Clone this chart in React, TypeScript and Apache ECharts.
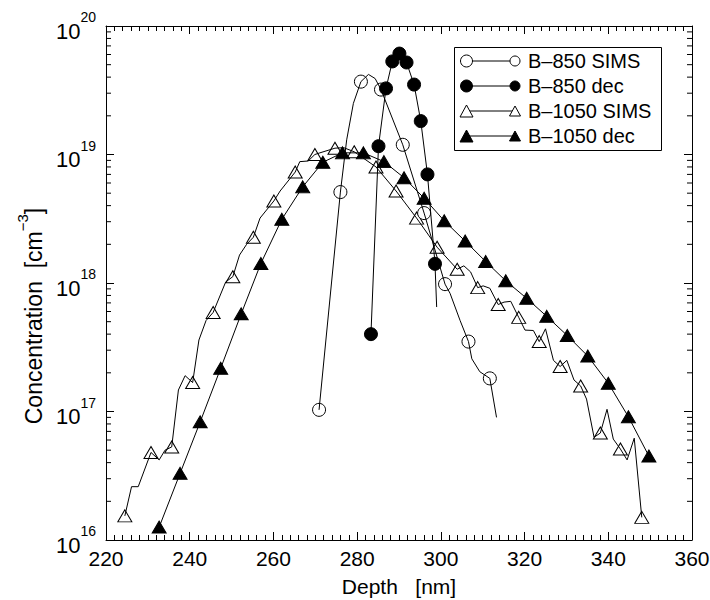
import React, { useEffect, useRef } from "react";
import * as echarts from "echarts";

const FONT = "'Liberation Sans', Arial, Helvetica, sans-serif";

// x axis (Depth, nm)
const depthMin = 220;
const depthMax = 360;
const depthStep = 20;
// y axis (Concentration, cm^-3), log scale
const concMin = 1e16;
const concMax = 1e20;

const seriesNames = ["B–850 SIMS", "B–850 dec", "B–1050 SIMS", "B–1050 dec"];

// B-850 SIMS: measured profile (line) and plotted symbols
const b850SimsLine: [number, number][] = [
  [270.9, 1.03e17], [276.0, 5.1e18], [277.5, 1.3e19], [279.1, 2.5e19],
  [280.9, 3.69e19], [282.7, 4.2e19], [284.3, 3.9e19], [285.7, 3.2e19],
  [290.9, 1.19e19], [296.0, 3.5e18], [301.0, 9.8e17], [302.2, 8.3e17],
  [304.6, 5.1e17], [306.6, 3.5e17], [307.4, 2.57e17], [309.3, 2.04e17],
  [311.7, 1.81e17], [313.3, 9.0e16],
];
const b850SimsMarks: [number, number][] = [
  [270.9, 1.03e17], [276.0, 5.1e18], [280.9, 3.69e19], [285.7, 3.2e19],
  [290.9, 1.19e19], [296.0, 3.5e18], [301.0, 9.8e17], [306.6, 3.5e17],
  [311.7, 1.81e17],
];

// B-850 deconvolved
const b850DecLine: [number, number][] = [
  [283.3, 4.0e17], [285.1, 1.16e19], [286.9, 3.27e19], [288.4, 5.3e19],
  [290.1, 6.1e19], [291.8, 5.2e19], [293.6, 3.5e19], [295.2, 1.82e19],
  [296.8, 7.0e18], [298.6, 1.41e18], [299.0, 6.5e17],
];
const b850DecMarks: [number, number][] = [
  [283.3, 4.0e17], [285.1, 1.16e19], [286.9, 3.27e19], [288.4, 5.3e19],
  [290.1, 6.1e19], [291.8, 5.2e19], [293.6, 3.5e19], [295.2, 1.82e19],
  [296.8, 7.0e18], [298.6, 1.41e18],
];

// B-1050 SIMS
const b1050SimsLine: [number, number][] = [
  [224.5, 1.54e16], [226.1, 2.6e16], [227.7, 2.6e16], [230.75, 4.8e16],
  [232.7, 4.2e16], [234.1, 5.0e16], [235.7, 5.3e16], [237.3, 1.47e17],
  [238.9, 1.9e17], [240.7, 1.68e17], [242.2, 3.6e17], [243.9, 5.1e17],
  [245.6, 5.9e17], [248.6, 1.02e18], [250.3, 1.12e18], [251.9, 1.65e18],
  [253.6, 2.0e18], [255.2, 2.27e18], [256.8, 3.2e18], [260.1, 4.35e18],
  [261.6, 5.2e18], [265.2, 7.3e18], [266.3, 8.8e18], [268.3, 8.9e18],
  [269.9, 1.0e19], [271.1, 1.03e19], [274.7, 1.12e19], [276.8, 1.13e19],
  [279.3, 1.05e19], [284.5, 8.0e18], [289.3, 5.2e18], [294.2, 3.2e18],
  [299.1, 1.9e18], [303.9, 1.28e18], [305.5, 1.36e18], [307.1, 1.22e18],
  [308.8, 9.2e17], [310.1, 9.5e17], [311.7, 9.1e17], [313.7, 6.8e17],
  [315.1, 7.1e17], [316.7, 7.2e17], [318.6, 5.4e17], [320.1, 4.3e17],
  [322.1, 4.27e17], [323.5, 3.5e17], [325.0, 4.4e17], [326.9, 2.5e17],
  [328.5, 2.24e17], [330.1, 2.5e17], [331.8, 1.76e17], [333.4, 1.58e17],
  [334.8, 1.25e17], [336.6, 6.3e16], [338.1, 6.8e16], [339.7, 1.04e17],
  [341.2, 6.1e16], [342.9, 5.1e16], [344.5, 4.2e16], [346.2, 6.2e16],
  [348.0, 1.5e16],
];
const b1050SimsMarks: [number, number][] = [
  [224.5, 1.54e16], [230.75, 4.8e16], [235.7, 5.3e16], [240.7, 1.68e17],
  [245.6, 5.9e17], [250.3, 1.12e18], [255.2, 2.27e18], [260.1, 4.35e18],
  [265.2, 7.3e18], [269.9, 1.0e19], [274.7, 1.12e19], [279.3, 1.05e19],
  [284.5, 8.0e18], [289.3, 5.2e18], [294.2, 3.2e18], [299.1, 1.9e18],
  [303.9, 1.28e18], [308.8, 9.2e17], [313.7, 6.8e17], [318.6, 5.4e17],
  [323.5, 3.5e17], [328.5, 2.24e17], [333.4, 1.58e17], [338.1, 6.8e16],
  [342.9, 5.1e16], [348.0, 1.5e16],
];

// B-1050 deconvolved
const b1050DecLine: [number, number][] = [
  [232.7, 1.26e16], [237.7, 3.3e16], [242.5, 8.3e16], [247.4, 2.17e17],
  [252.3, 5.75e17], [257.0, 1.42e18], [262.0, 3.13e18], [267.0, 5.6e18],
  [271.8, 8.7e18], [276.5, 1.03e19], [281.5, 1.03e19], [286.4, 8.8e18],
  [291.2, 6.6e18], [296.0, 4.57e18], [300.8, 3.05e18], [305.8, 2.12e18],
  [310.7, 1.47e18], [315.5, 1.04e18], [320.5, 7.6e17], [325.3, 5.5e17],
  [330.2, 3.9e17], [335.1, 2.7e17], [340.0, 1.66e17], [344.8, 9.1e16],
  [349.7, 4.5e16],
];
const b1050DecMarks: [number, number][] = b1050DecLine;

// minor tick positions of the log axis (2..9 per decade)
const minorMultipliers = [2, 3, 4, 5, 6, 7, 8, 9];
const decades = [16, 17, 18, 19];

const BLACK = "#000";

export default function App() {
  const ref = useRef<HTMLDivElement>(null);

  useEffect(() => {
    if (!ref.current) return;
    const chart = echarts.init(ref.current, undefined, { renderer: "svg" });

    const yMinor: [number, number][] = [];
    decades.forEach((d) =>
      minorMultipliers.forEach((m) => yMinor.push([depthMin, m * Math.pow(10, d)]))
    );

    const lineSeries = (name: string, data: [number, number][]) => ({
      name,
      type: "line",
      data,
      symbol: "none",
      smooth: false,
      lineStyle: { color: BLACK, width: 1 },
      silent: true,
    });
    const markSeries = (
      name: string,
      data: [number, number][],
      symbol: string,
      filled: boolean
    ) => ({
      name,
      type: "scatter",
      data,
      symbol,
      symbolSize: symbol === "circle" ? 13 : [14, 12],
      itemStyle: {
        color: filled ? BLACK : "#fff",
        borderColor: BLACK,
        borderWidth: 1,
        opacity: 1,
      },
      silent: true,
    });

    const axisCommonX = {
      type: "value",
      min: depthMin,
      max: depthMax,
      interval: depthStep,
      axisLine: { show: true, lineStyle: { color: BLACK, width: 1 } },
      axisTick: { show: true, inside: true, length: 8, lineStyle: { color: BLACK, width: 1 } },
      minorTick: { show: true, splitNumber: 10, length: 5, lineStyle: { color: BLACK, width: 1 } },
      splitLine: { show: false },
      minorSplitLine: { show: false },
    };
    const axisCommonY = {
      type: "log",
      logBase: 10,
      min: concMin,
      max: concMax,
      axisLine: { show: true, lineStyle: { color: BLACK, width: 1 } },
      axisTick: { show: true, inside: true, length: 8, lineStyle: { color: BLACK, width: 1 } },
      splitLine: { show: false },
    };

    // legend (drawn as graphics: marker – line – marker, then label)
    const legendEls: any[] = [
      {
        type: "rect",
        shape: { x: 454.5, y: 47.5, width: 207, height: 103 },
        style: { fill: "#fff", stroke: BLACK, lineWidth: 1 },
        z: 100,
      },
    ];
    seriesNames.forEach((name, i) => {
      const y = 61 + 25 * i;
      const xl = 466.5;
      const xr = 515;
      const filled = i % 2 === 1;
      const fill = filled ? BLACK : "#fff";
      const isCircle = i < 2;
      const marker = (x: number, s: number) =>
        isCircle
          ? { type: "circle", z: 102, shape: { cx: x, cy: y, r: s / 2 }, style: { fill, stroke: BLACK, lineWidth: 1 } }
          : {
              type: "polygon",
              z: 102,
              shape: { points: [[x, y - s / 2], [x - s / 2 - 0.5, y + s / 2], [x + s / 2 + 0.5, y + s / 2]] },
              style: { fill, stroke: BLACK, lineWidth: 1 },
            };
      legendEls.push(
        { type: "line", z: 101, shape: { x1: xl, y1: y, x2: xr, y2: y }, style: { stroke: BLACK, lineWidth: 1 } },
        marker(xl, 12),
        marker(xr, 10),
        {
          type: "text",
          z: 102,
          x: 528,
          y,
          style: { text: name, fontSize: 20, fontFamily: FONT, fill: BLACK, verticalAlign: "middle", align: "left" },
        }
      );
    });

    chart.setOption({
      animation: false,
      backgroundColor: "#fff",
      textStyle: { fontFamily: FONT },
      grid: { left: 106, right: 18, top: 26, bottom: 60, containLabel: false, outerBoundsMode: "none" },
      xAxis: [
        {
          ...axisCommonX,
          position: "bottom",
          axisLabel: { color: BLACK, fontSize: 21, fontFamily: FONT, margin: 8 },
          name: "Depth   [nm]",
          nameLocation: "middle",
          nameGap: 36,
          nameTextStyle: { color: BLACK, fontSize: 21, fontFamily: FONT },
        },
        { ...axisCommonX, position: "top", axisLabel: { show: false } },
      ],
      yAxis: [
        {
          ...axisCommonY,
          position: "left",
          axisLabel: {
            color: BLACK,
            margin: 10,
            formatter: (v: number) => `{b|10}{s|${Math.round(Math.log10(v))}}`,
            rich: {
              b: { fontSize: 22, fontFamily: FONT, color: BLACK, verticalAlign: "bottom", lineHeight: 32 },
              s: { fontSize: 14, fontFamily: FONT, color: BLACK, verticalAlign: "top", lineHeight: 32 },
            },
          },
          name: "{a|Concentration  [cm}{s|−3}{a|]}",
          nameLocation: "middle",
          nameGap: 56,
          nameRotate: 90,
          nameTextStyle: {
            padding: [0, 66, 0, 0],
            rich: {
              a: { fontSize: 23, fontFamily: FONT, color: BLACK, verticalAlign: "bottom", lineHeight: 30 },
              s: { fontSize: 15, fontFamily: FONT, color: BLACK, verticalAlign: "top", lineHeight: 30 },
            },
          },
        },
        { ...axisCommonY, position: "right", axisLabel: { show: false } },
      ],
      graphic: legendEls,
      series: [
        {
          type: "custom",
          name: "yMinorTicks",
          data: yMinor,
          silent: true,
          clip: false,
          renderItem: (_p: any, api: any) => {
            const v = api.value(1);
            const l = api.coord([depthMin, v]);
            const r = api.coord([depthMax, v]);
            return {
              type: "group",
              children: [
                { type: "line", shape: { x1: l[0], y1: l[1], x2: l[0] + 5, y2: l[1] }, style: { stroke: BLACK, lineWidth: 1 } },
                { type: "line", shape: { x1: r[0], y1: r[1], x2: r[0] - 5, y2: r[1] }, style: { stroke: BLACK, lineWidth: 1 } },
              ],
            };
          },
        },
        lineSeries(seriesNames[2], b1050SimsLine),
        markSeries(seriesNames[2], b1050SimsMarks, "triangle", false),
        lineSeries(seriesNames[3], b1050DecLine),
        markSeries(seriesNames[3], b1050DecMarks, "triangle", true),
        lineSeries(seriesNames[0], b850SimsLine),
        markSeries(seriesNames[0], b850SimsMarks, "circle", false),
        lineSeries(seriesNames[1], b850DecLine),
        markSeries(seriesNames[1], b850DecMarks, "circle", true),
      ],
    });

    return () => chart.dispose();
  }, []);

  return (
    <div
      ref={ref}
      style={{ position: "fixed", left: 0, top: 0, width: 710, height: 600, background: "#fff" }}
    />
  );
}
